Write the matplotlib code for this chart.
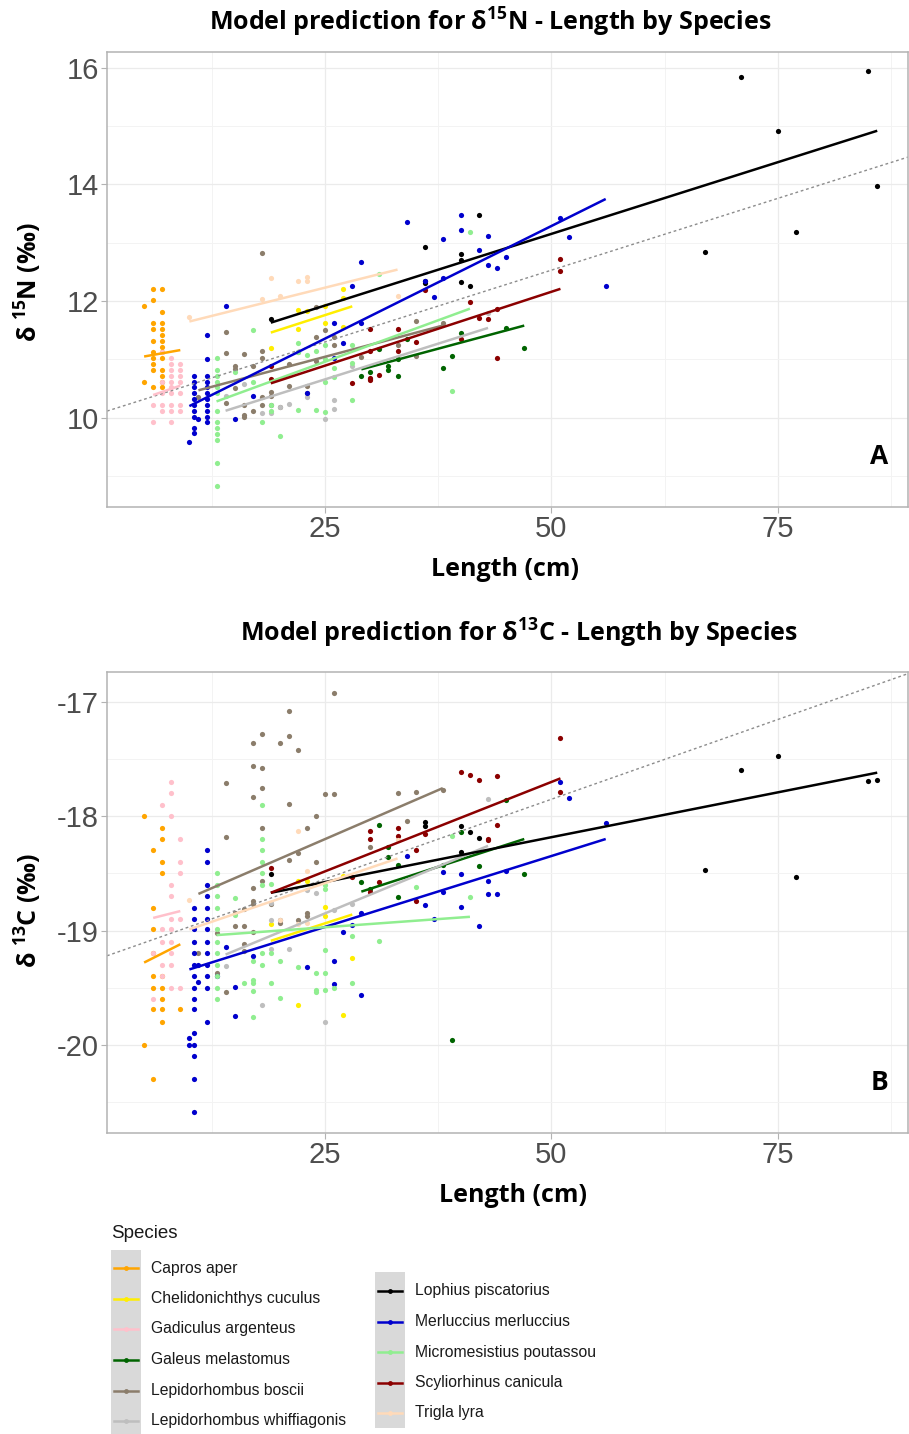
import matplotlib
matplotlib.use("Agg")
import matplotlib.pyplot as plt
from matplotlib.lines import Line2D
from matplotlib.patches import Rectangle
from matplotlib.ticker import FixedLocator

plt.rcParams['axes.unicode_minus'] = False
plt.rcParams['mathtext.fontset'] = 'custom'
plt.rcParams['mathtext.rm'] = 'Open Sans'
plt.rcParams['mathtext.bf'] = 'Open Sans:bold'

# ---- data: (length cm, value) ----
capros_n15 = [(5, 11.91), (5, 10.62),
              (6, 12.21), (6, 12.01), (6, 11.62), (6, 11.52), (6, 11.32), (6, 11.12), (6, 11.02), (6, 10.92), (6, 10.82), (6, 10.53),
              (7, 12.21), (7, 11.81), (7, 11.62), (7, 11.52), (7, 11.42), (7, 11.32), (7, 11.22), (7, 11.12), (7, 11.02),
              (7, 10.82), (7, 10.72), (7, 10.62), (7, 10.53)]
chelid_n15 = [(19, 11.19), (22, 11.84), (22, 11.53), (23, 11.83), (25, 11.91), (25, 11.63), (27, 12.21), (27, 12.06), (27, 11.55)]
gadic_n15 = [(7, 11.12), (8, 11.02), (8, 10.93), (9, 10.93), (8, 10.82), (9, 10.82), (8, 10.72), (9, 10.72), (7, 10.62), (8, 10.62),
             (9, 10.62), (8, 10.52), (7, 10.42), (8, 10.42), (9, 10.42), (6, 10.22), (7, 10.22), (8, 10.22), (9, 10.22), (7, 10.12),
             (8, 10.12), (9, 10.12), (6, 9.92), (8, 9.92)]
galeus_n15 = [(29, 10.71), (30, 10.78), (30, 10.66), (31, 11.18), (32, 10.88), (32, 10.81), (33, 10.72), (33, 11.0), (34, 11.35),
              (38, 10.86), (39, 11.06), (40, 11.46), (45, 11.54), (47, 11.19)]
boscii_n15 = [(11, 10.35), (14, 11.47), (14, 11.11), (14, 10.26), (15, 10.88), (15, 10.83), (15, 10.51), (16, 11.1), (16, 10.22),
              (16, 10.05), (16, 10.02), (17, 10.89), (17, 10.12), (18, 12.82), (18, 11.14), (18, 11.03), (18, 10.35), (18, 10.22),
              (19, 10.45), (19, 10.37), (19, 10.22), (20, 10.19), (21, 10.92), (21, 10.54), (22, 11.13), (23, 10.54), (23, 10.43),
              (24, 11.9), (24, 11.38), (24, 10.98), (25, 11.5), (26, 11.39), (26, 11.24), (29, 11.04), (33, 11.24), (35, 11.66),
              (35, 11.05), (38, 11.63)]
whiff_n15 = [(14, 10.37), (16, 10.57), (18, 10.08), (19, 10.08), (20, 10.18), (21, 10.23), (23, 10.35), (25, 9.97), (26, 10.31),
             (26, 10.15), (28, 10.88), (43, 11.8)]
lophius_n15 = [(19, 11.69), (36, 12.92), (36, 12.35), (36, 12.31), (40, 12.81), (40, 12.71), (40, 12.33), (41, 12.25), (42, 13.47),
               (67, 12.84), (71, 15.84), (75, 14.91), (77, 13.18), (85, 15.94), (86, 13.98)]
merluc_n15 = [(10, 9.59), (10.5, 10.72), (10.5, 10.62), (10.5, 10.53), (10.5, 10.42), (10.5, 10.32), (10.5, 10.22), (10.5, 10.12),
              (10.5, 10.02), (10.5, 9.82), (10.5, 9.73), (11, 9.97),
              (12, 11.42), (12, 11.01), (12, 10.72), (12, 10.62), (12, 10.53), (12, 10.42), (12, 10.32), (12, 10.22), (12, 10.12),
              (12, 10.02), (12, 9.92), (14, 11.91), (15, 9.98), (17, 10.37), (23, 10.42),
              (26, 11.63), (26, 11.02), (27, 11.28), (28, 12.26), (29, 12.67), (29, 11.63),
              (34, 13.35), (36, 12.34), (37, 12.07), (38, 13.06), (38, 12.39), (40, 13.47), (40, 13.21), (42, 12.87), (43, 13.12),
              (43, 12.62), (44, 12.57), (45, 12.76), (51, 13.42), (52, 13.1), (56, 12.25)]
micro_n15 = [(13, 11.02), (13, 10.82), (13, 10.72), (13, 10.62), (13, 10.52), (13, 10.42), (13, 10.12), (13, 9.92), (13, 9.82),
             (13, 9.72), (13, 9.62), (13, 9.22), (13, 8.83), (15, 10.78), (17, 11.5), (17, 10.62), (18, 9.92), (19, 10.22),
             (19, 10.12), (20, 9.68), (22, 11.28), (22, 11.13), (22, 10.14), (23, 11.08), (24, 11.15), (24, 10.13), (25, 11.25),
             (25, 11.0), (25, 10.62), (25, 10.1), (26, 10.85), (26, 10.7), (28, 11.24), (28, 10.94), (28, 10.3), (31, 12.46),
             (39, 10.46), (41, 13.19)]
scylio_n15 = [(19, 10.88), (19, 10.66), (28, 10.59), (30, 11.53), (30, 11.15), (30, 10.69), (30, 10.65), (31, 10.74), (33, 11.53),
              (33, 11.15), (35, 11.3), (36, 12.19), (40, 11.35), (41, 11.98), (42, 11.71), (43, 11.7), (44, 11.87), (44, 11.03),
              (51, 12.72), (51, 12.52)]
trigla_n15 = [(10, 11.72), (18, 12.03), (19, 12.4), (20, 12.09), (22, 12.34), (23, 12.42), (23, 12.35), (33, 12.08)]

capros_c13 = [(5, -18.0), (5, -20.0), (6, -18.30), (6, -18.80), (6, -18.99), (6, -19.20), (6, -19.40), (6, -19.50), (6, -19.69),
              (6, -20.30), (7, -18.10), (7, -18.20), (7, -18.40), (7, -18.50), (7, -19.40), (7, -19.50), (7, -19.60), (7, -19.69),
              (7, -19.80), (9, -19.69)]
chelid_c13 = [(19, -18.94), (22, -18.57), (22, -19.65), (23, -18.57), (25, -18.79), (25, -18.87), (27, -18.52), (27, -19.74), (28, -19.24)]
gadic_c13 = [(6, -19.20), (6, -19.60), (7, -17.90), (7, -19.10), (7, -19.30), (7, -19.40), (7, -18.99), (8, -17.70), (8, -17.80),
             (8, -18.00), (8, -18.60), (8, -18.70), (8, -18.90), (8, -18.99), (8, -19.10), (8, -19.20), (8, -19.30), (8, -19.50),
             (9, -18.20), (9, -18.40), (9, -18.50), (9, -18.90), (9, -19.50)]
galeus_c13 = [(29, -18.58), (30, -18.64), (31, -18.08), (32, -18.27), (32, -18.36), (33, -18.43), (33, -18.71), (38, -18.43),
              (39, -19.96), (40, -18.14), (42, -18.44), (45, -17.86), (47, -18.51)]
boscii_c13 = [(11, -19.20), (13, -19.02), (13, -19.37), (14, -17.71), (14, -18.18), (14, -19.54), (15, -18.85), (15, -18.96),
              (16, -18.81), (16, -18.96), (16, -19.12), (16, -19.18), (17, -17.36), (17, -17.56), (17, -17.83), (17, -18.63),
              (17, -18.74), (17, -18.77), (17, -19.01), (18, -17.28), (18, -17.58), (18, -17.75), (18, -18.10), (18, -18.57),
              (19, -18.77), (20, -17.36), (20, -18.91), (20, -18.93), (21, -17.08), (21, -17.30), (21, -17.89), (21, -18.38),
              (22, -17.42), (22, -18.32), (22, -18.91), (23, -18.10), (23, -18.85), (23, -18.87), (24, -18.0), (24, -18.40),
              (25, -17.81), (26, -17.81), (26, -16.92), (30, -18.27), (33, -17.80), (34, -18.04), (35, -17.79), (38, -17.77)]
whiff_c13 = [(14, -19.31), (18, -19.65), (19, -18.76), (19, -18.91), (19, -19.16), (21, -19.16), (23, -18.65), (24, -18.67),
             (25, -19.80), (26, -18.82), (28, -18.77), (43, -17.85)]
lophius_c13 = [(19, -18.51), (36, -18.05), (36, -18.09), (40, -18.09), (40, -18.31), (41, -18.14), (42, -18.19), (67, -18.47),
               (71, -17.60), (75, -17.47), (77, -18.53), (85, -17.69), (86, -17.68)]
merluc_c13 = [(10, -19.94), (10, -20.00), (10.5, -18.80), (10.5, -18.90), (10.5, -18.99), (10.5, -19.10), (10.5, -19.20),
              (10.5, -19.30), (10.5, -19.40), (10.5, -19.50), (10.5, -19.60), (10.5, -19.69), (10.5, -19.90), (10.5, -20.00),
              (10.5, -20.10), (10.5, -20.30), (10.5, -20.59), (11, -19.30), (11, -19.45), (12, -18.30), (12, -18.40), (12, -18.60),
              (12, -18.70), (12, -18.80), (12, -18.90), (12, -18.99), (12, -19.10), (12, -19.20), (12, -19.30), (12, -19.40),
              (12, -19.50), (12, -19.80), (13, -19.40), (14, -19.14), (15, -19.49), (15, -19.75), (17, -19.22), (23, -19.32),
              (26, -19.27), (26, -19.47), (27, -19.01), (28, -18.95), (29, -18.85), (29, -19.56), (34, -18.35), (36, -18.78),
              (37, -18.90), (38, -18.49), (38, -18.66), (40, -18.51), (40, -18.79), (42, -18.96), (43, -18.57), (43, -18.68),
              (44, -18.68), (45, -18.48), (51, -17.70), (52, -17.84), (56, -18.06)]
micro_c13 = [(13, -18.50), (13, -18.60), (13, -18.70), (13, -18.80), (13, -18.99), (13, -19.10), (13, -19.20), (13, -19.30),
             (13, -19.40), (13, -19.50), (13, -19.60), (15, -18.72), (15, -18.86), (16, -19.46), (17, -19.27), (17, -19.43),
             (17, -19.46), (17, -19.53), (17, -19.76), (18, -17.90), (18, -18.20), (18, -18.30), (18, -18.40), (18, -18.50),
             (18, -18.60), (18, -19.20), (18, -19.30), (19, -18.59), (19, -19.20), (19, -19.46), (20, -19.27), (20, -19.59),
             (22, -19.32), (24, -19.37), (24, -19.52), (24, -19.54), (25, -18.60), (25, -18.64), (25, -19.17), (25, -19.37),
             (25, -19.52), (26, -19.5), (28, -19.05), (28, -19.46), (31, -19.09), (35, -18.62), (39, -18.17), (41, -18.71)]
scylio_c13 = [(19, -18.45), (28, -18.53), (30, -18.13), (30, -18.20), (30, -18.66), (31, -18.58), (33, -18.10), (33, -18.17),
              (35, -18.30), (35, -18.74), (36, -18.16), (40, -17.61), (41, -17.64), (42, -17.68), (43, -18.21), (43, -18.20),
              (44, -17.65), (44, -18.08), (51, -17.32), (51, -17.79)]
trigla_c13 = [(10, -18.73), (20, -18.91), (22, -18.13), (22, -18.94), (23, -18.48), (23, -18.93), (33, -18.21)]

# model predictions at the smallest and largest length of each species
capros_fit = [[(5, 11.05), (9, 11.16)], [(5, -19.28), (9, -19.12)]]
chelid_fit = [[(19, 11.46), (28, 11.91)], [(19, -19.09), (28, -18.86)]]
gadic_fit = [[(6, 10.39), (9, 10.55)], [(6, -18.89), (9, -18.83)]]
galeus_fit = [[(29, 10.83), (47, 11.58)], [(29, -18.66), (47, -18.20)]]
boscii_fit = [[(11, 10.47), (38, 11.58)], [(11, -18.68), (38, -17.755)]]
whiff_fit = [[(14, 10.12), (43, 11.54)], [(14, -19.21), (43, -18.26)]]
lophius_fit = [[(19, 11.63), (86, 14.92)], [(19, -18.67), (86, -17.62)]]
merluc_fit = [[(10, 10.2), (56, 13.75)], [(10, -19.34), (56, -18.20)]]
micro_fit = [[(13, 10.28), (41, 11.87)], [(13, -19.04), (41, -18.88)]]
scylio_fit = [[(19, 10.59), (51, 12.21)], [(19, -18.67), (51, -17.67)]]
trigla_fit = [[(10, 11.65), (33, 12.54)], [(10, -18.99), (33, -18.37)]]

# overall regression (intercept, slope)
overall_n15 = (10.07, 0.0492)
overall_c13 = (-19.246, 0.02787)

species = ['Capros aper', 'Chelidonichthys cuculus', 'Gadiculus argenteus', 'Galeus melastomus',
           'Lepidorhombus boscii', 'Lepidorhombus whiffiagonis', 'Lophius piscatorius', 'Merluccius merluccius',
           'Micromesistius poutassou', 'Scyliorhinus canicula', 'Trigla lyra']
colors = ['#FFA500', '#FFEE00', '#FFC0CB', '#006400', '#8B7D6B', '#BEBEBE', '#000000', '#0000CD',
          '#90EE90', '#8B0000', '#FFDAB9']
pts_n15 = [capros_n15, chelid_n15, gadic_n15, galeus_n15, boscii_n15, whiff_n15, lophius_n15, merluc_n15,
           micro_n15, scylio_n15, trigla_n15]
pts_c13 = [capros_c13, chelid_c13, gadic_c13, galeus_c13, boscii_c13, whiff_c13, lophius_c13, merluc_c13,
           micro_c13, scylio_c13, trigla_c13]
fits = [capros_fit, chelid_fit, gadic_fit, galeus_fit, boscii_fit, whiff_fit, lophius_fit, merluc_fit,
        micro_fit, scylio_fit, trigla_fit]

W, H = 909, 1434
fig = plt.figure(figsize=(W / 100, H / 100), dpi=100)
fig.patch.set_facecolor('white')


def fx(px):
    return px / W


def fy(py):
    return 1 - py / H


TITLE_FONT = ['Open Sans', 'DejaVu Sans']
TICK_FONT = ['Liberation Sans', 'DejaVu Sans']
BIG = 18


def make_panel(rect, pts_list, panel_idx, overall, ylim, yticks, yminor, letter):
    ax = fig.add_axes(rect)
    ax.set_xlim(0.9, 89.4)
    ax.set_ylim(*ylim)
    ax.xaxis.set_major_locator(FixedLocator([25, 50, 75]))
    ax.xaxis.set_minor_locator(FixedLocator([12.5, 37.5, 62.5, 87.5]))
    ax.yaxis.set_major_locator(FixedLocator(yticks))
    ax.yaxis.set_minor_locator(FixedLocator(yminor))
    ax.set_yticklabels([str(t) for t in yticks])
    ax.grid(which='major', color='#EBEBEB', lw=0.9, zorder=0)
    ax.grid(which='minor', color='#F3F3F3', lw=0.7, zorder=0)
    ax.set_axisbelow(True)
    for s in ax.spines.values():
        s.set_color('#B3B3B3')
        s.set_linewidth(1.1)
    ax.tick_params(which='major', length=4, width=0.8, color='#B3B3B3', labelsize=21,
                   labelcolor='#4D4D4D', pad=2)
    ax.tick_params(which='minor', length=0)
    for lab in ax.get_xticklabels() + ax.get_yticklabels():
        lab.set_family(TICK_FONT)

    for pts, col in zip(pts_list, colors):
        ax.scatter([p[0] for p in pts], [p[1] for p in pts], s=14, color=col, lw=0, zorder=2)

    a, b = overall
    ax.axline((0, a), slope=b, color='#8C8C8C', lw=1.0, ls=(0, (2, 2)), zorder=2.5)

    for fit, col in zip(fits, colors):
        seg = fit[panel_idx]
        ax.plot([seg[0][0], seg[1][0]], [seg[0][1], seg[1][1]], color=col, lw=1.8,
                solid_capstyle='butt', zorder=3)

    ax.text(0.964, 0.11, letter, transform=ax.transAxes, ha='center', va='center',
            fontsize=19, weight='bold', family=TITLE_FONT)
    return ax


axA = make_panel([fx(107), fy(507), fx(908) - fx(107), fy(52) - fy(507)], pts_n15, 0, overall_n15,
                 (8.47, 16.27), [10, 12, 14, 16], [9, 11, 13, 15], 'A')
axB = make_panel([fx(107), fy(1133), fx(908) - fx(107), fy(672) - fy(1133)], pts_c13, 1, overall_c13,
                 (-20.77, -16.74), [-20, -19, -18, -17], [-20.5, -19.5, -18.5, -17.5], 'B')

# titles and axis labels
fig.text(fx(490), fy(22), r'Model prediction for δ$^{\mathbf{15}}$N - Length by Species', ha='center', va='center',
         fontsize=BIG, weight='bold', family=TITLE_FONT)
fig.text(fx(519), fy(633), r'Model prediction for δ$^{\mathbf{13}}$C - Length by Species', ha='center', va='center',
         fontsize=BIG, weight='bold', family=TITLE_FONT)
fig.text(fx(28), fy(282), r'δ $^{\mathbf{15}}$N (‰)', rotation=90, ha='center', va='center',
         fontsize=BIG, weight='bold', family=TITLE_FONT)
fig.text(fx(28), fy(910), r'δ $^{\mathbf{13}}$C (‰)', rotation=90, ha='center', va='center',
         fontsize=BIG, weight='bold', family=TITLE_FONT)
fig.text(fx(505), fy(569), 'Length (cm)', ha='center', va='center', fontsize=BIG, weight='bold', family=TITLE_FONT)
fig.text(fx(513), fy(1196), 'Length (cm)', ha='center', va='center', fontsize=BIG, weight='bold', family=TITLE_FONT)

# legend, drawn by hand in two columns
fig.text(fx(111), fy(1233), 'Species', ha='left', va='center', fontsize=13.5, color='#1A1A1A', family=TICK_FONT)
col_x = [111, 375]
col_top = [1250, 1272]
col_bot = [1440, 1428]
col_rows = [[1268, 1298.5, 1329, 1360, 1390.5, 1421], [1291, 1321.5, 1352, 1383, 1413]]
for c in range(2):
    x0 = col_x[c]
    fig.patches.append(Rectangle((fx(x0), fy(col_bot[c])), fx(30), fy(col_top[c]) - fy(col_bot[c]),
                                 transform=fig.transFigure, facecolor='#D9D9D9', edgecolor='none', zorder=1))
    start = 0 if c == 0 else 6
    for k, yy in enumerate(col_rows[c]):
        i = start + k
        fig.lines.append(Line2D([fx(x0 + 3), fx(x0 + 27)], [fy(yy), fy(yy)], transform=fig.transFigure,
                                color=colors[i], lw=1.8, zorder=2))
        fig.lines.append(Line2D([fx(x0 + 15)], [fy(yy)], transform=fig.transFigure, marker='o', ms=3.5,
                                color=colors[i], mew=0, zorder=3))
        fig.text(fx(x0 + 40), fy(yy), species[i], ha='left', va='center', fontsize=11.3, color='#1A1A1A',
                 family=TICK_FONT)

fig.savefig('out.png', dpi=100)
